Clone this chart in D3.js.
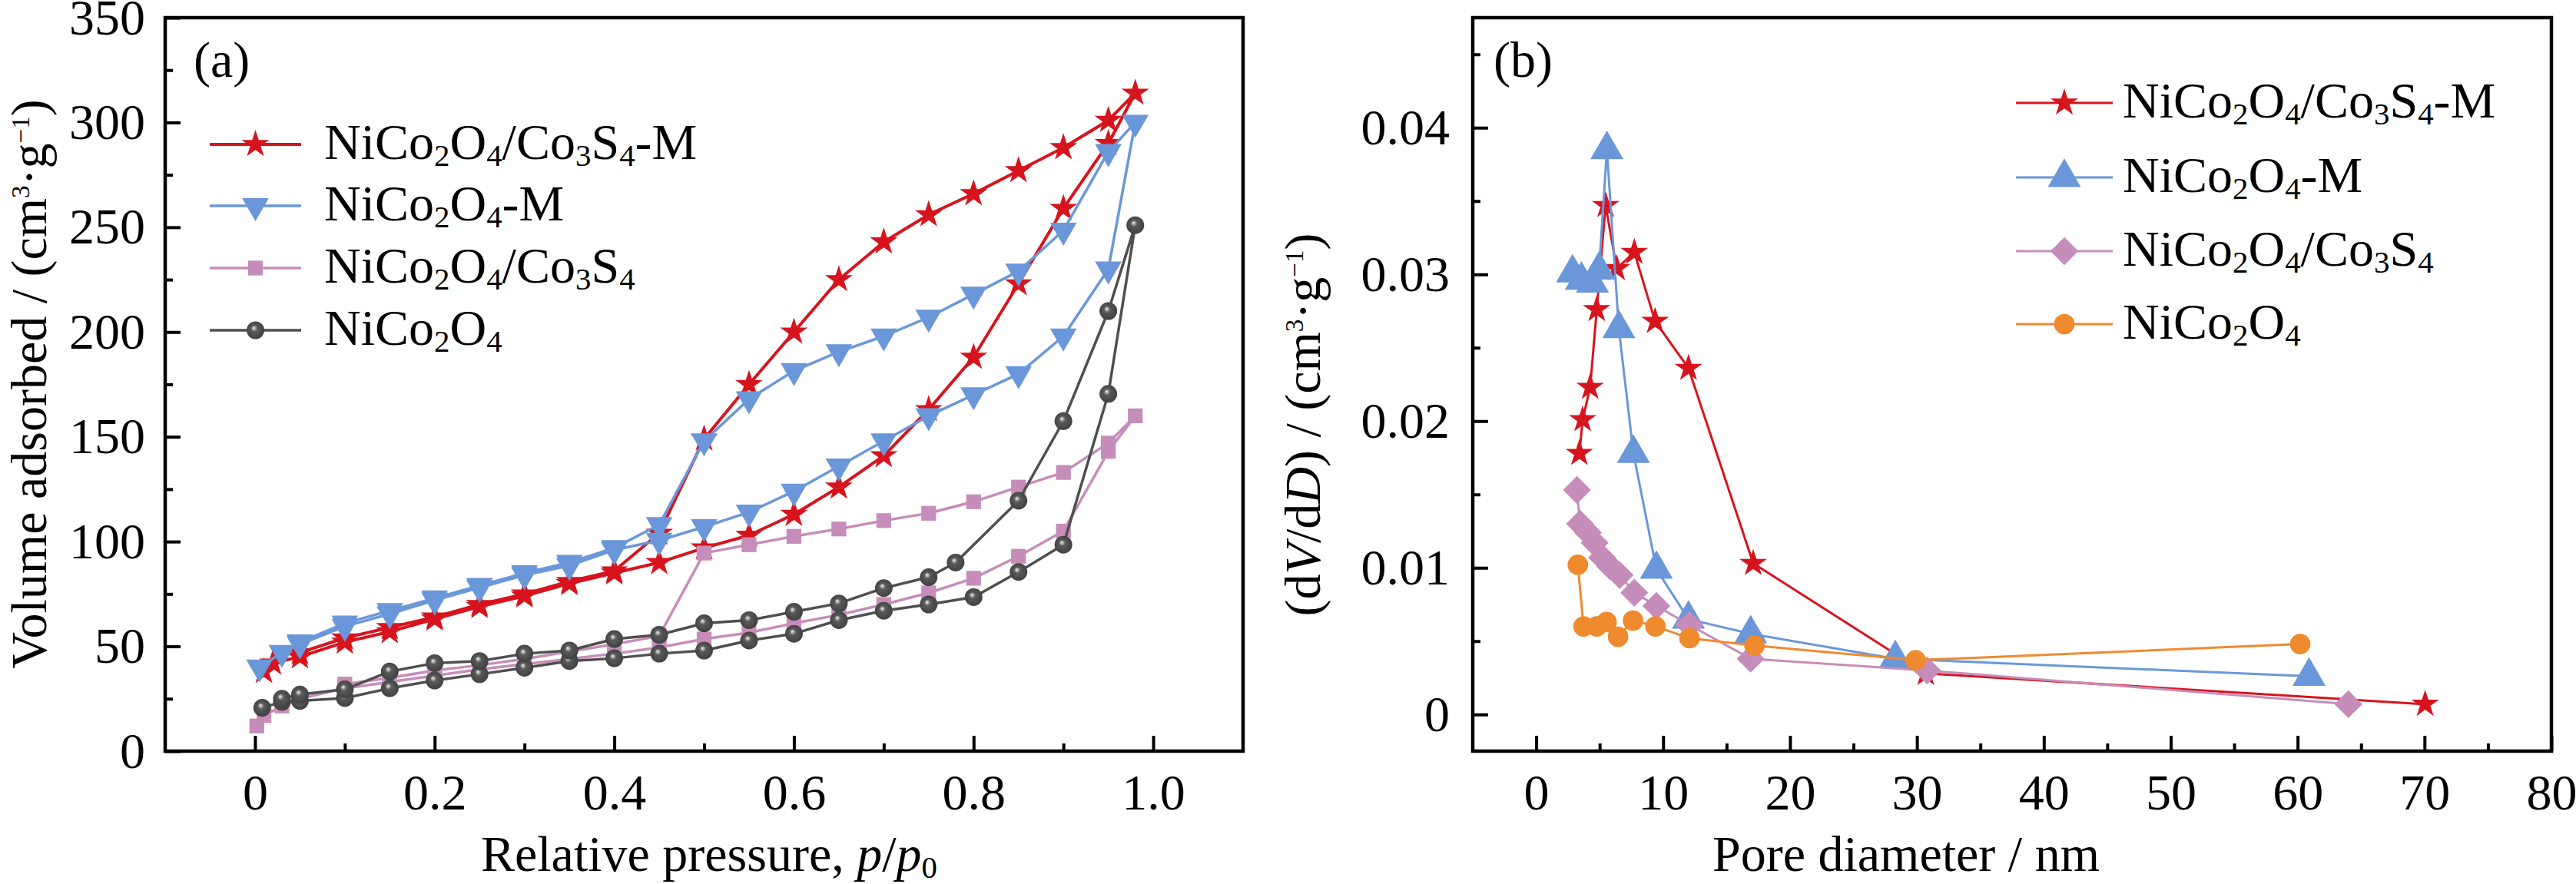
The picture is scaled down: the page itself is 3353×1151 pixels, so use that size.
<!DOCTYPE html>
<html>
<head>
<meta charset="utf-8">
<script src="https://cdn.jsdelivr.net/npm/d3@7"></script>
<style>
body { margin: 0; background: #fff; }
text { font-family: "Liberation Serif", "Times New Roman", serif; fill: #000; }
</style>
</head>
<body>
<script>
// ---- panel (a): N2 isotherms, adsorption then desorption branch ----
var redAdsP  = [0.01, 0.02, 0.05, 0.1, 0.15, 0.2, 0.25, 0.3, 0.35, 0.4, 0.45, 0.5, 0.55, 0.6, 0.65, 0.7, 0.75, 0.8, 0.85, 0.9, 0.95, 0.98];
var redAdsV  = [38, 42, 45, 52, 57, 63, 69, 74, 80, 85, 90, 97, 103, 113, 126, 141, 163, 188, 223, 259, 290, 314];
var redDesP  = [0.95, 0.9, 0.85, 0.8, 0.75, 0.7, 0.65, 0.6, 0.55, 0.5, 0.45, 0.4, 0.35, 0.3, 0.25, 0.2, 0.15, 0.1, 0.05];
var redDesV  = [301, 288, 277, 266, 256, 243, 225, 200, 175, 149, 104, 86, 81, 75, 70, 64, 59, 54, 47];

var blueAdsP = [0.005, 0.03, 0.05, 0.1, 0.15, 0.2, 0.25, 0.3, 0.35, 0.4, 0.45, 0.5, 0.55, 0.6, 0.65, 0.7, 0.75, 0.8, 0.85, 0.9, 0.95, 0.98];
var blueAdsV = [40, 47, 51, 59.5, 65.5, 72, 78, 84, 88.5, 96, 100.5, 107, 114, 124, 136, 148, 160, 170, 180, 198, 230, 300];
var blueDesP = [0.95, 0.9, 0.85, 0.8, 0.75, 0.7, 0.65, 0.6, 0.55, 0.5, 0.45, 0.4, 0.35, 0.3, 0.25, 0.2, 0.15, 0.1, 0.05];
var blueDesV = [286, 248.5, 229, 218, 207, 198, 190.5, 181.5, 168, 148, 108, 97, 90, 85, 79, 73, 67, 61, 52];

var pinkAdsP = [0.002, 0.01, 0.03, 0.05, 0.1, 0.15, 0.2, 0.25, 0.3, 0.35, 0.4, 0.45, 0.5, 0.55, 0.6, 0.65, 0.7, 0.75, 0.8, 0.85, 0.9, 0.95, 0.98];
var pinkAdsV = [12, 17, 21.5, 25, 30, 33, 36, 39, 41.5, 44, 46.5, 49.5, 53.5, 56.5, 61, 65, 70, 75.5, 82.5, 93, 105, 143, 160];
var pinkDesP = [0.95, 0.9, 0.85, 0.8, 0.75, 0.7, 0.65, 0.6, 0.55, 0.5, 0.45, 0.4, 0.35, 0.3, 0.25, 0.2, 0.15, 0.1];
var pinkDesV = [147, 133, 126, 119, 113.5, 110, 106, 102.5, 98.5, 94.5, 55, 51, 47.5, 44, 41, 38.5, 35, 32];

var grayAdsP = [0.008, 0.03, 0.05, 0.1, 0.15, 0.2, 0.25, 0.3, 0.35, 0.4, 0.45, 0.5, 0.55, 0.6, 0.65, 0.7, 0.75, 0.8, 0.85, 0.9, 0.95, 0.98];
var grayAdsV = [20.7, 23.5, 24, 25.3, 30, 33.7, 36.7, 39.8, 43, 44.3, 46.5, 48, 52.8, 56, 62.5, 67, 70, 73.5, 85.5, 98.5, 170.5, 251];
var grayDesP = [0.95, 0.9, 0.85, 0.78, 0.75, 0.7, 0.65, 0.6, 0.55, 0.5, 0.45, 0.4, 0.35, 0.3, 0.25, 0.2, 0.15, 0.1, 0.05, 0.03];
var grayDesV = [210, 157.5, 119.5, 90, 83, 77.8, 70.5, 66.5, 62.5, 61, 55.5, 53.5, 48, 46.5, 43, 42, 38, 29.5, 27, 25];

// ---- panel (b): pore size distribution ----
var redD    = [3.4, 3.66, 4.25, 4.77, 5.47, 6.34, 7.73, 9.37, 12.0, 17.1, 30.7, 70.05];
var redDV   = [0.0178, 0.0201, 0.0223, 0.0276, 0.0347, 0.0304, 0.0315, 0.0268, 0.0236, 0.0103, 0.0028, 0.0007];
var blueD   = [2.86, 3.56, 4.43, 4.95, 5.57, 6.51, 7.66, 9.47, 12.0, 16.9, 28.3, 60.9];
var blueDV  = [0.0301, 0.0296, 0.0294, 0.0303, 0.0385, 0.0263, 0.0178, 0.0099, 0.0065, 0.0055, 0.0038, 0.0026];
var pinkD   = [3.21, 3.45, 4.08, 4.6, 5.19, 5.81, 6.58, 7.73, 9.47, 12.08, 16.9, 30.8, 64.0];
var pinkDV  = [0.0153, 0.0130, 0.0124, 0.0117, 0.0107, 0.0101, 0.0095, 0.0083, 0.0074, 0.0061, 0.0038, 0.0030, 0.0007];
var orangeD = [3.28, 3.73, 4.77, 5.54, 6.45, 7.63, 9.4, 12.08, 17.2, 29.9, 60.2];
var orangeDV= [0.0102, 0.0060, 0.0060, 0.0063, 0.0053, 0.0064, 0.0060, 0.0052, 0.0047, 0.0037, 0.0048];

var xTicksA = [0, 0.2, 0.4, 0.6, 0.8, 1.0];
var yTicksA = [0, 50, 100, 150, 200, 250, 300, 350];
var xTicksB = [0, 10, 20, 30, 40, 50, 60, 70, 80];
var yTicksB = [0, 0.01, 0.02, 0.03, 0.04];

var W = 3353, H = 1151, FS = 66;
var cRed = '#d7141e', cBlue = '#6a97d9', cPink = '#c68dbb', cGray = '#4f4f4f', cOrange = '#f08a2e';

var svg = d3.select('body').append('svg').attr('width', W).attr('height', H);

var defs = svg.append('defs');
var grad = defs.append('radialGradient').attr('id', 'ball')
  .attr('cx', '50%').attr('cy', '50%').attr('r', '55%').attr('fx', '40%').attr('fy', '36%');
grad.append('stop').attr('offset', '0%').attr('stop-color', '#f2f2f2');
grad.append('stop').attr('offset', '14%').attr('stop-color', '#b0b0b0');
grad.append('stop').attr('offset', '32%').attr('stop-color', '#5a5a5a');
grad.append('stop').attr('offset', '100%').attr('stop-color', '#3e3e3e');

// text with sub/superscripts and italics
function rich(t, parts) {
  var shift = 0;
  parts.forEach(function(p) {
    var s = t.append('tspan').text(p[0]);
    var target = p[1] === 'sub' ? FS * 0.13 : (p[1] === 'sup' ? -FS * 0.34 : 0);
    if (target - shift !== 0) s.attr('dy', target - shift);
    shift = target;
    if (p[1] === 'sub') s.attr('font-size', FS * 0.62);
    if (p[1] === 'sup') s.attr('font-size', FS * 0.5);
    if (p[1] === 'i') s.attr('font-style', 'italic');
  });
  return t;
}

var nameRed  = [['NiCo', ''], ['2', 'sub'], ['O', ''], ['4', 'sub'], ['/Co', ''], ['3', 'sub'], ['S', ''], ['4', 'sub'], ['-M', '']];
var nameBlue = [['NiCo', ''], ['2', 'sub'], ['O', ''], ['4', 'sub'], ['-M', '']];
var namePink = [['NiCo', ''], ['2', 'sub'], ['O', ''], ['4', 'sub'], ['/Co', ''], ['3', 'sub'], ['S', ''], ['4', 'sub']];
var nameBase = [['NiCo', ''], ['2', 'sub'], ['O', ''], ['4', 'sub']];
var unit = [['(cm', ''], ['3', 'sup'], ['\u00b7g', ''], ['\u22121', 'sup'], [')', '']];

function drawMarker(g, shape, color, cx, cy) {
  if (shape === 'ball') {
    g.append('circle').attr('cx', cx).attr('cy', cy).attr('r', 11.5).attr('fill', 'url(#ball)');
    return;
  }
  var sym, rot = 0;
  if (shape === 'star') sym = d3.symbol(d3.symbolStar, 400);
  if (shape === 'tridown') { sym = d3.symbol(d3.symbolTriangle, 520); rot = 180; }
  if (shape === 'triup') sym = d3.symbol(d3.symbolTriangle, 800);
  if (shape === 'square') sym = d3.symbol(d3.symbolSquare, 370);
  if (shape === 'diamond') { sym = d3.symbol(d3.symbolSquare, 660); rot = 45; }
  if (shape === 'circle') sym = d3.symbol(d3.symbolCircle, 560);
  g.append('path').attr('d', sym())
    .attr('transform', 'translate(' + cx + ',' + cy + ') rotate(' + rot + ')')
    .attr('fill', color);
}

function panel(opt) {
  var x = d3.scaleLinear().domain(opt.xDom).range([opt.left, opt.right]);
  var y = d3.scaleLinear().domain(opt.yDom).range([opt.bottom, opt.top]);
  var g = svg.append('g');

  // inward major + minor ticks
  g.append('g').attr('transform', 'translate(0,' + opt.bottom + ')')
    .call(d3.axisBottom(x).tickValues(opt.xMinor).tickSize(-10).tickFormat(''));
  g.append('g').attr('transform', 'translate(' + opt.left + ',0)')
    .call(d3.axisLeft(y).tickValues(opt.yMinor).tickSize(-10).tickFormat(''));
  g.append('g').attr('transform', 'translate(0,' + opt.bottom + ')')
    .call(d3.axisBottom(x).tickValues(opt.xTicks).tickSize(-20).tickPadding(29).tickFormat(opt.xFmt));
  g.append('g').attr('transform', 'translate(' + opt.left + ',0)')
    .call(d3.axisLeft(y).tickValues(opt.yTicks).tickSize(-20).tickPadding(opt.yPad).tickFormat(opt.yFmt));
  g.selectAll('.domain').remove();
  g.selectAll('.tick line').attr('stroke', '#000').attr('stroke-width', 4);
  g.selectAll('.tick text').attr('font-size', FS).attr('font-family', '"Liberation Serif", serif');

  g.append('rect').attr('x', opt.left).attr('y', opt.top)
    .attr('width', opt.right - opt.left).attr('height', opt.bottom - opt.top)
    .attr('fill', 'none').attr('stroke', '#000').attr('stroke-width', 4.5);

  var line = d3.line().x(function(d) { return x(d[0]); }).y(function(d) { return y(d[1]); });
  opt.series.forEach(function(s) {
    var pts = d3.zip(s.xs, s.ys);
    g.append('path').attr('d', line(pts)).attr('fill', 'none')
      .attr('stroke', s.color).attr('stroke-width', s.lw).attr('stroke-linejoin', 'round');
    var mg = g.append('g');
    pts.forEach(function(d) { drawMarker(mg, s.shape, s.color, x(d[0]), y(d[1])); });
  });

  // legend
  opt.series.forEach(function(s, i) {
    var ly = opt.legY[i];
    g.append('line').attr('x1', opt.legX[0]).attr('x2', opt.legX[1]).attr('y1', ly).attr('y2', ly)
      .attr('stroke', s.color).attr('stroke-width', s.lw);
    drawMarker(g, s.shape, s.color, (opt.legX[0] + opt.legX[1]) / 2, ly);
    rich(g.append('text').attr('x', opt.legX[2]).attr('y', ly + 19).attr('font-size', FS), s.name);
  });

  g.append('text').attr('x', opt.tagX).attr('y', 100).attr('font-size', FS).text(opt.tag);
  rich(g.append('text').attr('x', opt.xTitleX).attr('y', 1134).attr('font-size', FS)
    .attr('text-anchor', 'middle'), opt.xTitle);
  rich(g.append('text').attr('transform', 'translate(' + opt.yTitlePos[0] + ',' + opt.yTitlePos[1] + ') rotate(-90)')
    .attr('font-size', FS).attr('text-anchor', 'middle'), opt.yTitle);
}

panel({
  left: 215, right: 1618, top: 23, bottom: 978,
  xDom: [-0.1, 1.1], yDom: [0, 350],
  xTicks: xTicksA, yTicks: yTicksA,
  xMinor: [0.1, 0.3, 0.5, 0.7, 0.9], yMinor: [25, 75, 125, 175, 225, 275, 325],
  xFmt: function(d) { return d === 0 ? '0' : d.toFixed(1); },
  yFmt: function(d) { return String(d); }, yPad: 26,
  series: [
    { xs: redAdsP.concat(redDesP), ys: redAdsV.concat(redDesV), color: cRed, shape: 'star', lw: 4, name: nameRed },
    { xs: blueAdsP.concat(blueDesP), ys: blueAdsV.concat(blueDesV), color: cBlue, shape: 'tridown', lw: 3.5, name: nameBlue },
    { xs: pinkAdsP.concat(pinkDesP), ys: pinkAdsV.concat(pinkDesV), color: cPink, shape: 'square', lw: 3.5, name: namePink },
    { xs: grayAdsP.concat(grayDesP), ys: grayAdsV.concat(grayDesV), color: cGray, shape: 'ball', lw: 3.5, name: nameBase }
  ],
  legX: [273, 392, 422], legY: [188, 268, 349, 430],
  tag: '(a)', tagX: 252,
  xTitle: [['Relative pressure, ', ''], ['p', 'i'], ['/', ''], ['p', 'i'], ['0', 'sub']], xTitleX: 923,
  yTitle: [['Volume adsorbed / ', '']].concat(unit), yTitlePos: [60, 500]
});

panel({
  left: 1917, right: 3321, top: 23, bottom: 978,
  xDom: [-5, 80], yDom: [-0.0025, 0.0475],
  xTicks: xTicksB, yTicks: yTicksB,
  xMinor: [5, 15, 25, 35, 45, 55, 65, 75], yMinor: [0.005, 0.015, 0.025, 0.035, 0.045],
  xFmt: function(d) { return String(d); },
  yFmt: function(d) { return d === 0 ? '0' : d.toFixed(2); }, yPad: 30,
  series: [
    { xs: redD, ys: redDV, color: cRed, shape: 'star', lw: 3, name: nameRed },
    { xs: blueD, ys: blueDV, color: cBlue, shape: 'triup', lw: 3, name: nameBlue },
    { xs: pinkD, ys: pinkDV, color: cPink, shape: 'diamond', lw: 3, name: namePink },
    { xs: orangeD, ys: orangeDV, color: cOrange, shape: 'circle', lw: 3, name: nameBase }
  ],
  legX: [2624, 2750, 2763], legY: [134, 231, 327, 422],
  tag: '(b)', tagX: 1944,
  xTitle: [['Pore diameter / nm', '']], xTitleX: 2481,
  yTitle: [['(d', ''], ['V', 'i'], ['/d', ''], ['D', 'i'], [') / ', '']].concat(unit), yTitlePos: [1718, 553]
});
</script>
</body>
</html>
